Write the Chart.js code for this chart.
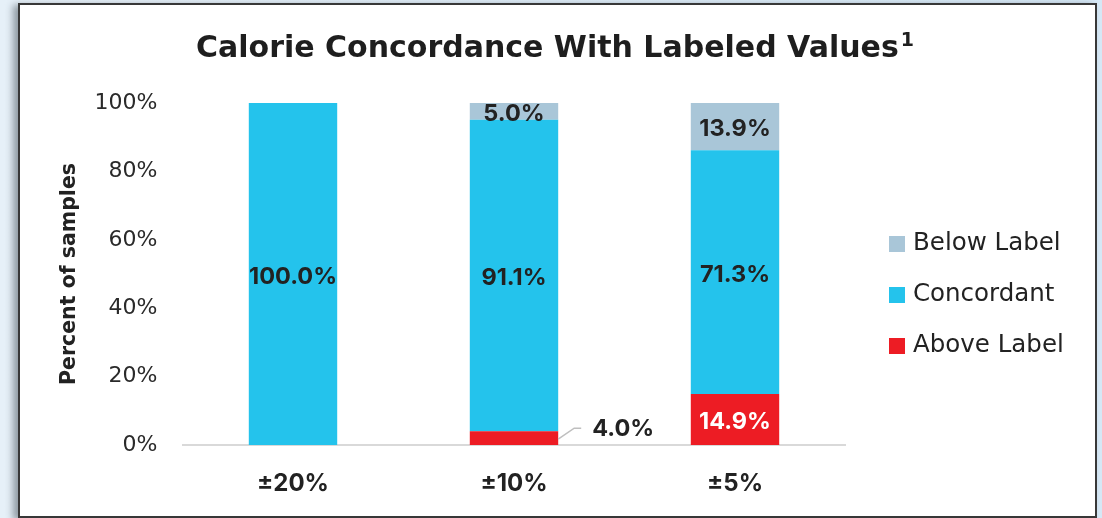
<!DOCTYPE html>
<html>
<head>
<meta charset="utf-8">
<script src="https://cdn.jsdelivr.net/npm/chart.js@4"></script>
<style>
  html, body { margin: 0; padding: 0; }
  body {
    width: 1102px; height: 518px; overflow: hidden;
    background: linear-gradient(90deg, #e6f0f8 0%, #d6e8f6 100%);
    position: relative;
  }
  #frame {
    position: absolute; left: 18px; top: 3px;
    width: 1079px; height: 515px;
    box-sizing: border-box;
    border: 2px solid #383838;
    background: #fff;
    box-shadow: -5px 2px 7px rgba(40, 50, 60, 0.45);
  }
  #wrap { position: absolute; left: 0; top: 0; width: 1075px; height: 511px; }
</style>
</head>
<body>
<div id="frame"><div id="wrap"><canvas id="chart"></canvas></div></div>
<script>
const CHART = document.getElementById("chart").getContext("2d");

const TEXT_FONT = "'DejaVu Sans', sans-serif";
const NUM_FONT = "Inter, 'Liberation Sans', sans-serif";

const chartTitle = "Calorie Concordance With Labeled Values";
const titleNote = "1";

const categories = ["±20%", "±10%", "±5%"];
const aboveLabel = [0, 4.0, 14.9];
const concordant = [100.0, 91.1, 71.3];
const belowLabel = [0, 5.0, 13.9];
const yTicks = [0, 20, 40, 60, 80, 100];

// draws the heading with a raised footnote marker
const titlePlugin = {
    id: "titleText",
    afterDraw(chart) {
        const ctx = chart.ctx;
        ctx.save();
        ctx.fillStyle = "#1e1e1e";
        ctx.textBaseline = "middle";
        ctx.font = "bold 30px " + TEXT_FONT;
        const w1 = ctx.measureText(chartTitle).width;
        ctx.font = "bold 19px " + TEXT_FONT;
        const w2 = ctx.measureText(titleNote).width;
        let x = 535 - (w1 + w2 + 2) / 2;
        ctx.textAlign = "left";
        ctx.font = "bold 30px " + TEXT_FONT;
        ctx.fillText(chartTitle, x, 44);
        ctx.font = "bold 19px " + TEXT_FONT;
        ctx.fillText(titleNote, x + w1 + 2, 36);
        ctx.restore();
    }
};

// legend on the right, top series first
const legendPlugin = {
    id: "sideLegend",
    afterDraw(chart) {
        const ctx = chart.ctx;
        const sets = chart.data.datasets.slice().reverse();
        ctx.save();
        ctx.font = "24.5px " + TEXT_FONT;
        ctx.textBaseline = "middle";
        ctx.textAlign = "left";
        sets.forEach(function (ds, i) {
            const y = 239 + i * 51;
            ctx.fillStyle = ds.backgroundColor;
            ctx.fillRect(869, y - 8, 16, 16);
            ctx.fillStyle = "#222";
            ctx.fillText(ds.label, 893, y);
        });
        ctx.restore();
    }
};

// percentage labels on each segment; thin ones get a leader line
const valuePlugin = {
    id: "valueLabels",
    afterDatasetsDraw(chart) {
        const ctx = chart.ctx;
        ctx.save();
        ctx.font = "bold 23.5px " + NUM_FONT;
        ctx.textBaseline = "middle";
        chart.data.datasets.forEach(function (ds, di) {
            const meta = chart.getDatasetMeta(di);
            meta.data.forEach(function (bar, i) {
                const v = ds.data[i];
                if (!v) return;
                const text = v.toFixed(1) + "%";
                const cy = (bar.y + bar.base) / 2;
                if (v < 4.5) {
                    const right = bar.x + bar.width / 2;
                    ctx.strokeStyle = "#bfbfbf";
                    ctx.lineWidth = 1.5;
                    ctx.beginPath();
                    ctx.moveTo(right, cy + 1);
                    ctx.lineTo(right + 16, cy - 10);
                    ctx.lineTo(right + 23, cy - 10);
                    ctx.stroke();
                    ctx.fillStyle = "#222";
                    ctx.textAlign = "left";
                    ctx.fillText(text, right + 34, cy - 9);
                } else {
                    ctx.fillStyle = ds.labelColor;
                    ctx.textAlign = "center";
                    ctx.fillText(text, bar.x, cy + 2.5);
                }
            });
        });
        ctx.restore();
    }
};

let barChart = new Chart(CHART, {
    type: "bar",
    data: {
        labels: categories,
        datasets: [
            { label: "Above Label", backgroundColor: "#ed1c24", labelColor: "#ffffff", data: aboveLabel },
            { label: "Concordant", backgroundColor: "#24c3ec", labelColor: "#222222", data: concordant },
            { label: "Below Label", backgroundColor: "#a9c6d8", labelColor: "#222222", data: belowLabel }
        ]
    },
    options: {
        responsive: true,
        maintainAspectRatio: false,
        animation: false,
        layout: { padding: { top: 98, right: 249.5, left: 0, bottom: 0 } },
        datasets: { bar: { categoryPercentage: 0.8, barPercentage: 0.5 } },
        plugins: {
            legend: { display: false },
            title: { display: false },
            tooltip: { enabled: false }
        },
        scales: {
            x: {
                stacked: true,
                grid: { display: false, drawTicks: false, tickLength: 0 },
                border: { display: true, color: "#d9d9d9", width: 2 },
                ticks: { color: "#222", padding: 24, font: { family: NUM_FONT, size: 24, weight: "bold" } },
                afterFit(scale) { scale.height = 71; }
            },
            y: {
                stacked: true,
                min: 0,
                max: 100,
                afterBuildTicks(scale) { scale.ticks = yTicks.map(v => ({ value: v })); },
                grid: { display: false, drawTicks: false, tickLength: 0 },
                border: { display: false },
                ticks: {
                    color: "#2a2a2a",
                    padding: 25,
                    font: { family: TEXT_FONT, size: 22 },
                    callback: v => v + "%"
                },
                title: {
                    display: true,
                    text: "Percent of samples",
                    color: "#222",
                    padding: { top: 37, bottom: 0 },
                    font: { family: TEXT_FONT, size: 20.5, weight: "bold" }
                },
                afterFit(scale) { scale.width = 162.5; }
            }
        }
    },
    plugins: [valuePlugin, titlePlugin, legendPlugin]
});
</script>
</body>
</html>
